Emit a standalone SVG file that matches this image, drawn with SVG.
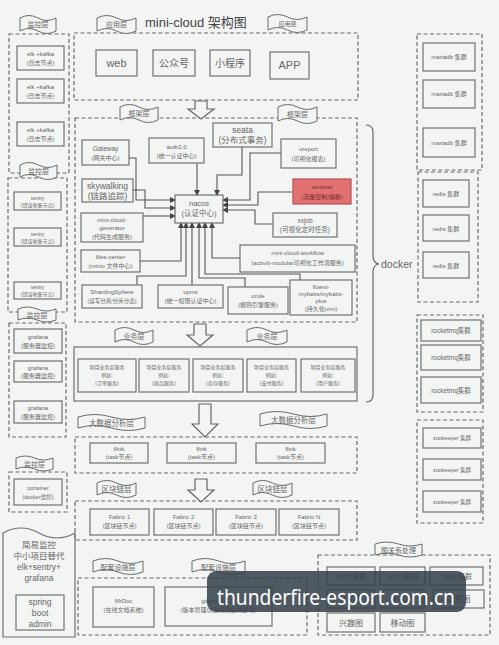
<svg xmlns="http://www.w3.org/2000/svg" width="499" height="645" viewBox="0 0 499 645">
<defs>
<style>
.bg{fill:#f3f5f4}
.box{fill:none;stroke:#707070;stroke-width:1.2}
.dash{fill:none;stroke:#6a6a6a;stroke-width:1.2;stroke-dasharray:4 2.5}
.ban{fill:#f3f5f4;stroke:#6a6a6a;stroke-width:1}
.red{fill:#e27272;stroke:#b85050;stroke-width:1.2}
.harrow{fill:#f3f5f4;stroke:#666;stroke-width:1.2}
.conn{fill:none;stroke:#555;stroke-width:1.1;marker-end:url(#ah)}
text{font-family:"Liberation Sans","Noto Sans CJK SC",sans-serif;fill:#666;text-anchor:middle}
.s5{font-size:5px}.s55{font-size:5.5px}.s6{font-size:6px}.s65{font-size:6.5px}.s7{font-size:7px}.s75{font-size:7.5px}.s8{font-size:8px}.s85{font-size:8.5px}.s10{font-size:10px}.s11{font-size:11px}
</style>
<marker id="ah" markerWidth="6" markerHeight="6" refX="5" refY="3" orient="auto" markerUnits="userSpaceOnUse"><path d="M0,0 L6,3 L0,6 Z" fill="#444"/></marker>
</defs>
<rect class="bg" x="0" y="0" width="499" height="645"/>
<text x="145" y="27" style="font-size:13px;text-anchor:start;fill:#444">mini-cloud 架构图</text>

<!-- dashed containers -->
<g id="containers">
<rect class="dash" x="9" y="34" width="60" height="139"/>
<rect class="dash" x="74" y="33" width="284" height="67"/>
<rect class="dash" x="75" y="118" width="282" height="204"/>
<rect class="dash" x="8" y="178" width="59" height="134"/>
<rect class="dash" x="9" y="323" width="57" height="114"/>
<rect class="dash" x="9" y="472" width="58" height="40"/>
<rect class="box" x="74" y="347" width="283" height="54"/>
<rect class="dash" x="75" y="437" width="282" height="36"/>
<rect class="dash" x="75" y="501" width="282" height="39"/>
<rect class="dash" x="78" y="578" width="229" height="57"/>
<rect class="dash" x="318" y="555" width="172" height="80"/>
<rect class="dash" x="417" y="34" width="65" height="136"/>
<rect class="dash" x="418" y="172" width="60" height="130"/>
<rect class="dash" x="417" y="315" width="66" height="97"/>
<rect class="dash" x="417" y="420" width="66" height="103"/>
</g>

<!-- banners -->
<g id="banners">
<g id="b1"><path class="ban" d="M20,18 q9,-5 18,0 t18,0 v13 q-9,5 -18,0 t-18,0 z"/><text class="s7" x="38" y="27">监控层</text></g>
<g id="b2"><path class="ban" d="M97,18 q9.75,-5 19.5,0 t19.5,0 v13 q-9.75,5 -19.5,0 t-19.5,0 z"/><text class="s7" x="116.5" y="27">应用层</text></g>
<g id="b3"><path class="ban" d="M268,17 q9.75,-5 19.5,0 t19.5,0 v13 q-9.75,5 -19.5,0 t-19.5,0 z"/><text class="s6" x="287.5" y="26">应用层</text></g>
<g id="b4"><path class="ban" d="M120,107 q9.5,-5 19,0 t19,0 v13 q-9.5,5 -19,0 t-19,0 z"/><text class="s7" x="139" y="116">框架层</text></g>
<g id="b5"><path class="ban" d="M278,107 q9.75,-5 19.5,0 t19.5,0 v14 q-9.75,5 -19.5,0 t-19.5,0 z"/><text class="s7" x="297.5" y="117">框架层</text></g>
<g id="b6"><path class="ban" d="M20,165 q9.25,-5 18.5,0 t18.5,0 v12 q-9.25,5 -18.5,0 t-18.5,0 z"/><text class="s7" x="38.5" y="173.5">监控层</text></g>
<g id="b7"><path class="ban" d="M18,309 q9.5,-4 19,0 t19,0 v11 q-9.5,4 -19,0 t-19,0 z"/><text class="s7" x="37" y="317.5">监控层</text></g>
<g id="b8"><path class="ban" d="M115,330 q9.5,-5 19,0 t19,0 v12 q-9.5,5 -19,0 t-19,0 z"/><text class="s7" x="134" y="339">业务层</text></g>
<g id="b9"><path class="ban" d="M247,330 q10,-5 20,0 t20,0 v12 q-10,5 -20,0 t-20,0 z"/><text class="s7" x="267" y="339">业务层</text></g>
<g id="b10"><path class="ban" d="M78,417 q16.75,-5 33.5,0 t33.5,0 v11 q-16.75,5 -33.5,0 t-33.5,0 z"/><text class="s75" x="111.5" y="425.5">大数据分析层</text></g>
<g id="b11"><path class="ban" d="M260,414 q16.75,-5 33.5,0 t33.5,0 v12 q-16.75,5 -33.5,0 t-33.5,0 z"/><text class="s75" x="293.5" y="423">大数据分析层</text></g>
<g id="b12"><path class="ban" d="M97,483 q9.75,-5 19.5,0 t19.5,0 v12 q-9.75,5 -19.5,0 t-19.5,0 z"/><text class="s75" x="116.5" y="492">区块链层</text></g>
<g id="b13"><path class="ban" d="M253,483 q9.75,-5 19.5,0 t19.5,0 v12 q-9.75,5 -19.5,0 t-19.5,0 z"/><text class="s75" x="272.5" y="492">区块链层</text></g>
<g id="b14"><path class="ban" d="M16,458 q9.25,-4 18.5,0 t18.5,0 v11 q-9.25,4 -18.5,0 t-18.5,0 z"/><text class="s7" x="34.5" y="466.5">监控层</text></g>
<g id="b15"><path class="ban" d="M93,561 q12.5,-5 25,0 t25,0 v11 q-12.5,5 -25,0 t-25,0 z"/><text class="s7" x="118" y="569.5">配套设施层</text></g>
<g id="b16"><path class="ban" d="M192,561 q13.25,-5 26.5,0 t26.5,0 v11 q-13.25,5 -26.5,0 t-26.5,0 z"/><text class="s7" x="218.5" y="569.5">配套设施层</text></g>
<g id="b17"><path class="ban" d="M375,544 q11.75,-4 23.5,0 t23.5,0 v11 q-11.75,4 -23.5,0 t-23.5,0 z"/><text class="s7" x="398.5" y="552.5">图关系处理</text></g>
</g>

<!-- hollow flow arrows -->
<g id="flow">
<path class="harrow" d="M195,101 H207 V109 H214 L201,119 L188,109 H195 Z"/>
<path class="harrow" d="M194,324 H206 V335 H213 L200,346 L187,335 H194 Z"/>
<path class="harrow" d="M199,404 H211 V424 H218 L205,437 L192,424 H199 Z"/>
<path class="harrow" d="M195,479 H207 V490 H214 L201,502 L188,490 H195 Z"/>
</g>

<!-- app layer -->
<g id="web"><rect class="box" x="96" y="50" width="41" height="26"/><text class="s11" x="116.5" y="67">web</text></g>
<g id="gzh"><rect class="box" x="153" y="50" width="42" height="26"/><text class="s10" x="174" y="67">公众号</text></g>
<g id="xcx"><rect class="box" x="210" y="50" width="40" height="26"/><text class="s10" x="230" y="67">小程序</text></g>
<g id="app"><rect class="box" x="270" y="52" width="39" height="27"/><text class="s11" x="289.5" y="69">APP</text></g>

<!-- connectors -->
<g id="connectors">
<path class="conn" d="M129,158 H136 V200 H175"/>
<path class="conn" d="M133,190 H145 V208 H175"/>
<path class="conn" d="M143,216 H175"/>
<path class="conn" d="M197,163 V195"/>
<path class="conn" d="M242,147 V175 H217 V195"/>
<path class="conn" d="M281,153 H250 V200 H223"/>
<path class="conn" d="M293,192 H258 V205 H223"/>
<path class="conn" d="M273,224 H255 V210 H223"/>
<path class="conn" d="M140,261 H181 V223"/>
<path class="conn" d="M137,285 V276 H186 V223"/>
<path class="conn" d="M192,285 V223"/>
<path class="conn" d="M245,287 V278 H199 V223"/>
<path class="conn" d="M300,280 V274 H205 V223"/>
<path class="conn" d="M240,258 H212 V223"/>
</g>

<!-- framework layer -->
<g id="gateway"><rect class="box" x="82" y="140" width="47" height="25"/><text class="s65" x="105.5" y="151">Gateway</text><text class="s6" x="105.5" y="160">(网关中心)</text></g>
<g id="auth"><rect class="box" x="149" y="138" width="55" height="25"/><text class="s6" x="176.5" y="149">auth2.0</text><text class="s6" x="176.5" y="158">(统一认证中心)</text></g>
<g id="seata"><rect class="box" x="213" y="123" width="59" height="24"/><text class="s85" x="242.5" y="133">seata</text><text class="s85" x="242.5" y="143">(分布式事务)</text></g>
<g id="ureport"><rect class="box" x="281" y="139" width="55" height="29"/><text class="s6" x="308.5" y="151">ureport</text><text class="s6" x="308.5" y="161">(可视化报表)</text></g>
<g id="sentinel"><rect class="red" x="293" y="179" width="58" height="25"/><text class="s6" x="322" y="189" style="fill:#7a2a2a">sentinel</text><text class="s6" x="322" y="199" style="fill:#7a2a2a">(流量控制/熔断)</text></g>
<g id="xxjob"><rect class="box" x="273" y="213" width="64" height="24"/><text class="s65" x="305" y="223">xxjob</text><text class="s65" x="305" y="232">(可视化定时任务)</text></g>
<g id="skywalking"><rect class="box" x="82" y="179" width="51" height="23"/><text class="s85" x="107.5" y="189">skywalking</text><text class="s85" x="107.5" y="199">(链路追踪)</text></g>
<g id="generator"><rect class="box" x="81" y="213" width="62" height="29"/><text class="s6" x="112" y="222">mini-cloud-</text><text class="s6" x="112" y="230">generator</text><text class="s6" x="112" y="239">(代码生成服务)</text></g>
<g id="nacos"><rect class="box" x="175" y="195" width="48" height="28"/><text class="s75" x="199" y="206">nacos</text><text class="s75" x="199" y="216">(认证中心)</text></g>
<g id="files"><rect class="box" x="81" y="250" width="59" height="22"/><text class="s6" x="110.5" y="259">files-center</text><text class="s6" x="110.5" y="268">(minio 文件中心)</text></g>
<g id="workflow"><rect class="box" x="240" y="245" width="115" height="27"/><text class="s6" x="297.5" y="255">mini-cloud-workflow</text><text class="s6" x="297.5" y="265">(activiti-modular可视化工作流服务)</text></g>
<g id="sharding"><rect class="box" x="82" y="285" width="60" height="23"/><text class="s6" x="112" y="294">ShardingSphere</text><text class="s55" x="112" y="303">(读写分离/分库分表)</text></g>
<g id="upms"><rect class="box" x="158" y="285" width="65" height="23"/><text class="s6" x="190.5" y="294">upms</text><text class="s6" x="190.5" y="303">(统一权限认证中心)</text></g>
<g id="urule"><rect class="box" x="228" y="287" width="60" height="27"/><text class="s6" x="258" y="298">urule</text><text class="s6" x="258" y="307">(规则引擎服务)</text></g>
<g id="fluent"><rect class="box" x="290" y="280" width="62" height="35"/><text class="s6" x="321" y="289">fluent-</text><text class="s6" x="321" y="296">mybatis/mybatis-</text><text class="s6" x="321" y="303">plus</text><text class="s6" x="321" y="311">(持久化orm)</text></g>

<!-- docker brace -->
<g id="docker">
<path d="M366,125 Q373,125 373,132 V256 Q373,263 379,264 Q373,265 373,272 V395 Q373,402 366,402" fill="none" stroke="#666" stroke-width="1.2"/>
<text x="381" y="268" style="font-size:10.5px;text-anchor:start">docker</text>
</g>

<!-- business -->
<g id="biz1"><rect class="box" x="78" y="359" width="58" height="33"/><text class="s5" x="107" y="369">项目业务层服务</text><text class="s5" x="107" y="377">例如:</text><text class="s5" x="107" y="385">(订单服务)</text></g>
<g id="biz2"><rect class="box" x="139" y="359" width="50" height="33"/><text class="s5" x="164" y="369">项目业务层服务</text><text class="s5" x="164" y="377">例如:</text><text class="s5" x="164" y="385">(商品服务)</text></g>
<g id="biz3"><rect class="box" x="193" y="359" width="50" height="33"/><text class="s5" x="218" y="369">项目业务层服务</text><text class="s5" x="218" y="377">例如:</text><text class="s5" x="218" y="385">(库存服务)</text></g>
<g id="biz4"><rect class="box" x="247" y="359" width="49" height="33"/><text class="s5" x="271.5" y="369">项目业务层服务</text><text class="s5" x="271.5" y="377">例如:</text><text class="s5" x="271.5" y="385">(支付服务)</text></g>
<g id="biz5"><rect class="box" x="301" y="359" width="54" height="33"/><text class="s5" x="328" y="369">项目业务层服务</text><text class="s5" x="328" y="377">例如:</text><text class="s5" x="328" y="385">(用户服务)</text></g>

<!-- big data -->
<g id="flink1"><rect class="box" x="90" y="443" width="58" height="20"/><text class="s6" x="119" y="451">flink</text><text class="s6" x="119" y="459">(task节点)</text></g>
<g id="flink2"><rect class="box" x="167" y="443" width="69" height="20"/><text class="s6" x="201.5" y="451">flink</text><text class="s6" x="201.5" y="459">(task节点)</text></g>
<g id="flink3"><rect class="box" x="256" y="443" width="69" height="20"/><text class="s6" x="290.5" y="451">flink</text><text class="s6" x="290.5" y="459">(task节点)</text></g>

<!-- blockchain -->
<g id="fab1"><rect class="box" x="90" y="509" width="59" height="26"/><text class="s6" x="119.5" y="519">Fabric 1</text><text class="s6" x="119.5" y="528">(区块链节点)</text></g>
<g id="fab2"><rect class="box" x="154" y="509" width="59" height="26"/><text class="s6" x="183.5" y="519">Fabric 2</text><text class="s6" x="183.5" y="528">(区块链节点)</text></g>
<g id="fab3"><rect class="box" x="216" y="509" width="60" height="26"/><text class="s6" x="246" y="519">Fabric 3</text><text class="s6" x="246" y="528">(区块链节点)</text></g>
<g id="fabn"><rect class="box" x="279" y="509" width="60" height="26"/><text class="s6" x="309" y="519">Fabric N</text><text class="s6" x="309" y="528">(区块链节点)</text></g>

<!-- supporting -->
<g id="mrdoc"><rect class="box" x="93" y="587" width="61" height="40"/><text class="s6" x="123.5" y="603">MrDoc</text><text class="s6" x="123.5" y="612">(在线文档系统)</text></g>
<g id="gitlab"><rect class="box" x="165" y="587" width="107" height="39"/><text class="s6" x="218.5" y="603">gitlab(CI/CD)</text><text class="s6" x="218.5" y="612">(版本管理以及持续集成部署)</text></g>

<!-- graph -->
<g id="neo1"><rect class="box" x="327" y="567" width="48" height="18"/><text class="s7" x="351" y="579">neo4j集群</text></g>
<g id="neo2"><rect class="box" x="380" y="567" width="45" height="18"/><text class="s7" x="402.5" y="579">neo4j集群</text></g>
<g id="neo3"><rect class="box" x="430" y="567" width="53" height="18"/><text class="s7" x="456.5" y="579">neo4j集群</text></g>
<g id="g21"><rect class="box" x="327" y="590" width="48" height="18"/><text class="s8" x="351" y="602">社交图</text></g>
<g id="g22"><rect class="box" x="381" y="590" width="43" height="18"/><text class="s8" x="402.5" y="602">意向图</text></g>
<g id="g23"><rect class="box" x="433" y="590" width="51" height="18"/><text class="s8" x="458.5" y="602">消费图</text></g>
<g id="g31"><rect class="box" x="327" y="613" width="48" height="19"/><text class="s8" x="351" y="626">兴趣图</text></g>
<g id="g32"><rect class="box" x="380" y="613" width="45" height="19"/><text class="s8" x="402.5" y="626">移动图</text></g>

<!-- left monitoring -->
<g id="elk1"><rect class="box" x="17" y="46" width="47" height="24"/><text class="s6" x="40.5" y="56">elk +kafka</text><text class="s6" x="40.5" y="65">(日志节点)</text></g>
<g id="elk2"><rect class="box" x="17" y="79" width="47" height="24"/><text class="s6" x="40.5" y="89">elk +kafka</text><text class="s6" x="40.5" y="98">(日志节点)</text></g>
<g id="elk3"><rect class="box" x="17" y="122" width="47" height="24"/><text class="s6" x="40.5" y="132">elk +kafka</text><text class="s6" x="40.5" y="141">(日志节点)</text></g>
<g id="sentry1"><rect class="box" x="14" y="192" width="47" height="18"/><text class="s5" x="37.5" y="199.5">sentry</text><text class="s5" x="37.5" y="206.5">(错误收集节点)</text></g>
<g id="sentry2"><rect class="box" x="14" y="228" width="47" height="18"/><text class="s5" x="37.5" y="235.5">sentry</text><text class="s5" x="37.5" y="242.5">(错误收集节点)</text></g>
<g id="sentry3"><rect class="box" x="14" y="282" width="47" height="17"/><text class="s5" x="37.5" y="289">sentry</text><text class="s5" x="37.5" y="296">(错误收集节点)</text></g>
<g id="graf1"><rect class="box" x="14" y="329" width="48" height="24"/><text class="s6" x="38" y="339">grafana</text><text class="s6" x="38" y="348">(服务器监控)</text></g>
<g id="graf2"><rect class="box" x="14" y="361" width="48" height="21"/><text class="s6" x="38" y="370">grafana</text><text class="s6" x="38" y="378">(服务器监控)</text></g>
<g id="graf3"><rect class="box" x="14" y="401" width="48" height="22"/><text class="s6" x="38" y="410">grafana</text><text class="s6" x="38" y="419">(服务器监控)</text></g>
<g id="portainer"><rect class="box" x="14" y="479" width="48" height="26"/><text class="s55" x="38" y="490">portainer</text><text class="s55" x="38" y="499">(docker监控)</text></g>
<g id="simple">
<path class="box" d="M3,533 q18,-10 36,0 t36,0 V637 H3 Z"/>
<text class="s85" x="39" y="548">简易监控</text>
<text class="s85" x="39" y="559">中小项目替代</text>
<text class="s85" x="39" y="570">elk+sentry+</text>
<text class="s85" x="39" y="581">grafana</text>
<rect class="box" x="16" y="595" width="48" height="35"/>
<text class="s85" x="40" y="605">spring</text>
<text class="s85" x="40" y="616">boot</text>
<text class="s85" x="40" y="627">admin</text>
</g>

<!-- right column -->
<g id="maria1"><rect class="box" x="423" y="43" width="52" height="28"/><text class="s6" x="449" y="59">mariadb 集群</text></g>
<g id="maria2"><rect class="box" x="423" y="80" width="52" height="28"/><text class="s6" x="449" y="96">mariadb 集群</text></g>
<g id="maria3"><rect class="box" x="423" y="128" width="52" height="29"/><text class="s6" x="449" y="145">mariadb 集群</text></g>
<g id="redis1"><rect class="box" x="423" y="180" width="46" height="27"/><text class="s6" x="446" y="196">redis 集群</text></g>
<g id="redis2"><rect class="box" x="423" y="215" width="46" height="26"/><text class="s6" x="446" y="230.5">redis 集群</text></g>
<g id="redis3"><rect class="box" x="423" y="252" width="46" height="26"/><text class="s6" x="446" y="267.5">redis 集群</text></g>
<g id="rmq1"><rect class="box" x="421" y="320" width="60" height="21"/><text class="s65" x="451" y="333">rocketmq集群</text></g>
<g id="rmq2"><rect class="box" x="421" y="345" width="60" height="25"/><text class="s65" x="451" y="360">rocketmq集群</text></g>
<g id="rmq3"><rect class="box" x="421" y="377" width="60" height="26"/><text class="s65" x="451" y="393">rocketmq集群</text></g>
<g id="zk1"><rect class="box" x="423" y="428" width="58" height="20"/><text class="s55" x="452" y="440">zookeeper 集群</text></g>
<g id="zk2"><rect class="box" x="423" y="459" width="58" height="21"/><text class="s55" x="452" y="472">zookeeper 集群</text></g>
<g id="zk3"><rect class="box" x="423" y="491" width="58" height="21"/><text class="s55" x="452" y="504">zookeeper 集群</text></g>

<!-- watermark overlay -->
<g id="watermark">
<rect x="207" y="571" width="259" height="41" rx="9" fill="#38434d" fill-opacity="0.88"/>
<text x="336" y="605" textLength="238" lengthAdjust="spacingAndGlyphs" style="font-family:'Noto Sans','Open Sans',sans-serif;font-size:22px;fill:#ffffff">thunderfire-esport.com.cn</text>
</g>
</svg>
